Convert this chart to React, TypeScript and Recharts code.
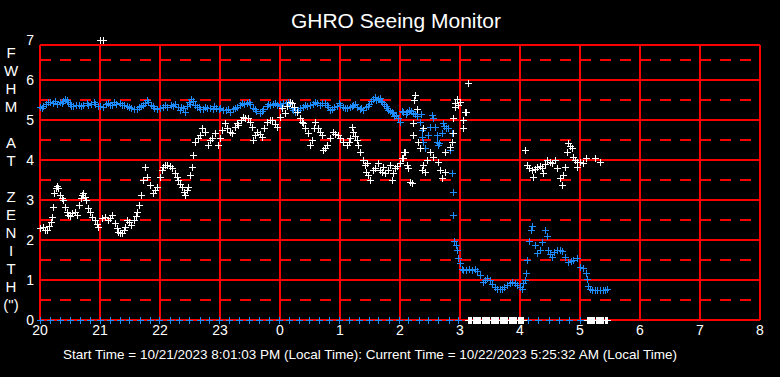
import { ScatterChart, Scatter, XAxis, YAxis, CartesianGrid } from 'recharts'

// hours since local midnight of the start day (24 = 0:00 next day)
const HOUR_TICKS = [20, 21, 22, 23, 24, 25, 26, 27, 28, 29, 30, 31, 32]
const FWHM_TICKS = [0, 1, 2, 3, 4, 5, 6, 7]
const FRAME_TOP = 6.875
const SOLID_Y = [0, 1, 2, 3, 4, 5, 6, FRAME_TOP]
const DASHED_Y = [0.5, 1.5, 2.5, 3.5, 4.5, 5.5, 6.5]
const Y_TITLE = ['F', 'W', 'H', 'M', '', 'A', 'T', '', 'Z', 'E', 'N', 'I', 'T', 'H', '(")']

const BLUE = '#1e8cff'
const RED = '#ff0000'
const FONT = '"Liberation Sans", Arial, sans-serif'

// blue series: [hour, fwhm]
const blueBand: [number, number][] = [
  [20.0, 5.33], [20.05, 5.36], [20.1, 5.4], [20.17, 5.46], [20.22, 5.43], [20.28, 5.4], [20.33, 5.44],
  [20.38, 5.48], [20.42, 5.52], [20.47, 5.45], [20.5, 5.4], [20.55, 5.35], [20.6, 5.37], [20.65, 5.38],
  [20.72, 5.38], [20.78, 5.42], [20.85, 5.4], [20.92, 5.4], [20.97, 5.36], [21.05, 5.32], [21.1, 5.4],
  [21.13, 5.43], [21.2, 5.38], [21.27, 5.4], [21.33, 5.43], [21.4, 5.38], [21.45, 5.35], [21.52, 5.3],
  [21.57, 5.28], [21.62, 5.27], [21.68, 5.35], [21.75, 5.42], [21.8, 5.46], [21.85, 5.38], [21.9, 5.3],
  [21.95, 5.27], [22.0, 5.3], [22.05, 5.32], [22.12, 5.33], [22.18, 5.37], [22.25, 5.4], [22.3, 5.33],
  [22.33, 5.25], [22.38, 5.3], [22.42, 5.2], [22.45, 5.35], [22.5, 5.4], [22.55, 5.48], [22.58, 5.38],
  [22.62, 5.33], [22.67, 5.28], [22.72, 5.27], [22.78, 5.3], [22.83, 5.31], [22.88, 5.27], [22.93, 5.3],
  [22.98, 5.28], [23.05, 5.25], [23.1, 5.24], [23.17, 5.21], [23.22, 5.28], [23.28, 5.33], [23.33, 5.37],
  [23.4, 5.4], [23.45, 5.42], [23.5, 5.4], [23.55, 5.3], [23.6, 5.22], [23.67, 5.17], [23.72, 5.28],
  [23.78, 5.35], [23.83, 5.38], [23.88, 5.4], [23.95, 5.38], [24.0, 5.4], [24.05, 5.42], [24.1, 5.43],
  [24.15, 5.4], [24.2, 5.3], [24.25, 5.21], [24.3, 5.25], [24.38, 5.33], [24.45, 5.35], [24.5, 5.38],
  [24.55, 5.4], [24.62, 5.42], [24.7, 5.42], [24.75, 5.43], [24.8, 5.33], [24.83, 5.25], [24.9, 5.32],
  [24.95, 5.36], [25.0, 5.38], [25.05, 5.33], [25.12, 5.29], [25.17, 5.33], [25.22, 5.38], [25.28, 5.33],
  [25.33, 5.27], [25.38, 5.25], [25.43, 5.33], [25.48, 5.4], [25.52, 5.47], [25.58, 5.57], [25.63, 5.53],
  [25.68, 5.48], [25.73, 5.4], [25.78, 5.3], [25.83, 5.22], [25.88, 5.17], [25.93, 5.13], [25.97, 5.05],
  [26.0, 4.96], [26.05, 5.2], [26.1, 5.15], [26.15, 5.25], [26.22, 5.17], [26.28, 5.1], [26.33, 4.96],
  [26.35, 5.15], [26.37, 4.75], [26.37, 4.58], [26.38, 4.45], [26.42, 4.3], [26.47, 4.62], [26.5, 4.83],
  [26.53, 5.12], [26.55, 5.05], [26.58, 4.83], [26.62, 4.62], [26.62, 4.45], [26.63, 4.38], [26.65, 4.42],
  [26.7, 4.67], [26.72, 4.92], [26.74, 4.85], [26.76, 4.8], [26.8, 4.8], [26.83, 4.25], [26.87, 4.67],
  [26.87, 3.67], [26.88, 3.2], [26.88, 2.62], [26.9, 1.98], [26.93, 1.88], [26.95, 1.75], [26.97, 1.55],
  [27.0, 1.42], [27.03, 1.28], [27.05, 1.25], [27.1, 1.25], [27.15, 1.27], [27.2, 1.25], [27.25, 1.27],
  [27.28, 1.22], [27.33, 1.12], [27.38, 0.95], [27.42, 1.0], [27.45, 1.05], [27.5, 1.0], [27.53, 0.9],
  [27.58, 0.83], [27.62, 0.78], [27.67, 0.78], [27.7, 0.78], [27.74, 0.82], [27.78, 0.88], [27.83, 0.92],
  [27.87, 0.95], [27.92, 0.92], [27.95, 0.88], [28.0, 0.82], [28.03, 0.78], [28.05, 0.92], [28.08, 1.0],
  [28.1, 1.18], [28.12, 1.5], [28.15, 1.98], [28.18, 2.25], [28.2, 2.35], [28.25, 1.88], [28.28, 1.68],
  [28.33, 1.75], [28.37, 1.95], [28.42, 2.25], [28.45, 2.1], [28.47, 1.75], [28.5, 1.65], [28.53, 1.58],
  [28.57, 1.7], [28.62, 1.75], [28.67, 1.75], [28.7, 1.73], [28.75, 1.58], [28.8, 1.45], [28.85, 1.48],
  [28.88, 1.5], [28.95, 1.55], [29.0, 1.33], [29.05, 1.3], [29.1, 1.17], [29.12, 1.02], [29.13, 0.85],
  [29.17, 0.78], [29.2, 0.75], [29.25, 0.74], [29.28, 0.75], [29.33, 0.75], [29.38, 0.75], [29.42, 0.76],
  [29.45, 0.78],
]

// extra readings inside the thick blue band
const blueBandFill: [number, number][] = [
  [20.03, 5.3], [20.13, 5.44], [20.25, 5.47], [20.36, 5.42], [20.45, 5.5], [20.52, 5.35], [20.68, 5.34],
  [20.8, 5.37], [20.9, 5.44], [21.0, 5.35], [21.16, 5.37], [21.24, 5.45], [21.36, 5.38], [21.48, 5.32],
  [21.65, 5.32], [21.72, 5.38], [21.78, 5.5], [21.88, 5.34], [22.08, 5.37], [22.22, 5.35], [22.35, 5.32],
  [22.48, 5.45], [22.52, 5.52], [22.65, 5.33], [22.75, 5.32], [22.9, 5.34], [23.0, 5.3], [23.14, 5.28],
  [23.25, 5.3], [23.37, 5.42], [23.48, 5.45], [23.58, 5.27], [23.7, 5.22], [23.8, 5.4], [23.92, 5.43],
  [24.02, 5.36], [24.13, 5.46], [24.22, 5.25], [24.33, 5.3], [24.42, 5.38], [24.58, 5.45], [24.66, 5.38],
  [24.78, 5.38], [24.87, 5.28], [24.98, 5.42], [25.08, 5.3], [25.2, 5.35], [25.25, 5.4], [25.35, 5.3],
  [25.46, 5.36], [25.55, 5.52], [25.6, 5.5], [25.66, 5.55], [25.7, 5.44], [25.76, 5.35], [25.8, 5.26],
  [25.86, 5.2], [25.9, 5.1], [26.03, 5.22], [26.12, 5.2], [26.18, 5.22], [26.25, 5.15],
]

const blueZeroTimes = [
  20.0, 20.17, 20.33, 20.5, 20.66, 20.83, 21.0, 21.16, 21.33, 21.49, 21.66, 21.83, 21.99, 22.16, 22.32,
  22.49, 22.66, 22.82, 22.99, 23.15, 23.32, 23.49, 23.65, 23.82, 23.98, 24.15, 24.32, 24.48, 24.65, 24.81,
  24.98, 25.15, 25.31, 25.48, 25.64, 25.81, 25.98, 26.14, 26.31, 26.47, 26.64, 26.81, 26.97,
  28.13, 28.3, 28.48, 28.65, 28.82, 29.0,
]

// white series: [hour, fwhm]
const whitePoints: [number, number][] = [
  [20.0, 2.3], [20.05, 2.33], [20.08, 2.25], [20.12, 2.25], [20.15, 2.35], [20.18, 2.45], [20.2, 2.58],
  [20.22, 2.83], [20.23, 3.17], [20.27, 3.3], [20.28, 3.35], [20.3, 3.3], [20.33, 3.12], [20.36, 3.05],
  [20.38, 3.0], [20.42, 2.83], [20.45, 2.7], [20.47, 2.62], [20.5, 2.6], [20.53, 2.67], [20.58, 2.7],
  [20.62, 2.62], [20.65, 2.88], [20.68, 3.05], [20.7, 3.12], [20.72, 3.17], [20.75, 3.08], [20.77, 3.0],
  [20.8, 2.8], [20.83, 2.7], [20.87, 2.58], [20.92, 2.5], [20.95, 2.4], [20.97, 2.33],
  [21.0, 7.0], [21.05, 7.0],
  [21.03, 2.55], [21.08, 2.58], [21.13, 2.5], [21.17, 2.55], [21.2, 2.62], [21.25, 2.42], [21.28, 2.3],
  [21.3, 2.2], [21.33, 2.17], [21.37, 2.17], [21.4, 2.25], [21.42, 2.33], [21.45, 2.5], [21.48, 2.45],
  [21.52, 2.38], [21.57, 2.5], [21.6, 2.6], [21.62, 2.7], [21.65, 2.88], [21.68, 3.12], [21.72, 3.5],
  [21.75, 3.82], [21.78, 3.58], [21.83, 3.38], [21.88, 3.17], [21.92, 3.25], [21.95, 3.33], [22.0, 3.58],
  [22.03, 3.75], [22.05, 3.83], [22.08, 3.88], [22.12, 3.88], [22.16, 3.85], [22.2, 3.8], [22.25, 3.67],
  [22.28, 3.58], [22.3, 3.5], [22.33, 3.4], [22.37, 3.33], [22.4, 3.2], [22.42, 3.12], [22.45, 3.25],
  [22.47, 3.33], [22.5, 3.62], [22.53, 3.83], [22.55, 4.12], [22.58, 4.45], [22.63, 4.55], [22.67, 4.62],
  [22.7, 4.8], [22.75, 4.7], [22.8, 4.38], [22.83, 4.5], [22.87, 4.55], [22.92, 4.67], [22.97, 4.38],
  [23.0, 4.55], [23.03, 4.75], [23.08, 4.92], [23.12, 4.8], [23.17, 4.7], [23.2, 4.67], [23.25, 4.83],
  [23.28, 4.92], [23.3, 4.88], [23.35, 5.0], [23.38, 5.08], [23.42, 5.06], [23.47, 5.04], [23.5, 4.95],
  [23.53, 4.83], [23.55, 4.5], [23.58, 4.62], [23.62, 4.7], [23.66, 4.65], [23.7, 4.58], [23.74, 4.8],
  [23.78, 4.96], [23.83, 5.0], [23.87, 5.0], [23.92, 4.9], [23.95, 4.83], [24.0, 5.08], [24.03, 5.3],
  [24.08, 5.17], [24.12, 5.35], [24.17, 5.46], [24.2, 5.42], [24.23, 5.33], [24.28, 5.21], [24.33, 5.04],
  [24.36, 4.96], [24.38, 4.92], [24.42, 4.8], [24.47, 4.67], [24.5, 4.38], [24.53, 4.5], [24.56, 4.8],
  [24.58, 4.96], [24.63, 4.8], [24.67, 4.7], [24.7, 4.62], [24.72, 4.25], [24.75, 4.3], [24.78, 4.38],
  [24.83, 4.55], [24.88, 4.7], [24.92, 4.65], [24.97, 4.62], [25.0, 4.55], [25.05, 4.45], [25.12, 4.38],
  [25.15, 4.45], [25.17, 4.55], [25.2, 4.83], [25.22, 4.7], [25.25, 4.6], [25.28, 4.5], [25.3, 4.38],
  [25.33, 4.2], [25.38, 4.0], [25.42, 3.88], [25.43, 3.7], [25.45, 3.92], [25.47, 3.62], [25.5, 3.5],
  [25.55, 3.75], [25.58, 3.8], [25.63, 3.92], [25.67, 3.75], [25.7, 3.7], [25.72, 3.83], [25.75, 3.67],
  [25.8, 3.75], [25.83, 3.88], [25.87, 3.5], [25.88, 3.67], [25.92, 3.8], [25.95, 3.85], [26.0, 3.92],
  [26.03, 4.05], [26.05, 4.05], [26.07, 4.2], [26.08, 4.2], [26.12, 3.88], [26.13, 3.8], [26.17, 3.45],
  [26.2, 3.42], [26.22, 4.62], [26.22, 4.92], [26.23, 5.5], [26.25, 5.62], [26.28, 5.27], [26.3, 4.45],
  [26.33, 4.3], [26.37, 3.75], [26.38, 3.88], [26.38, 4.8], [26.42, 3.7], [26.45, 4.0], [26.5, 4.2],
  [26.55, 4.08], [26.63, 3.95], [26.67, 3.75], [26.7, 3.55], [26.75, 3.7], [26.75, 4.2], [26.83, 4.33],
  [26.87, 4.45], [26.88, 4.67], [26.88, 5.04], [26.92, 5.33], [26.92, 5.42], [26.95, 5.53], [26.97, 5.38],
  [27.0, 5.46], [27.05, 4.8], [27.05, 5.0], [27.08, 5.21], [27.1, 5.2], [27.13, 5.92],
  [28.08, 4.25], [28.12, 3.88], [28.15, 3.8], [28.2, 3.75], [28.22, 3.58], [28.25, 3.78], [28.28, 3.83],
  [28.33, 3.85], [28.37, 3.8], [28.38, 3.67], [28.42, 3.9], [28.45, 4.0], [28.5, 3.95], [28.53, 3.92],
  [28.58, 4.0], [28.62, 3.8], [28.67, 3.55], [28.7, 3.38], [28.72, 3.62], [28.75, 3.83], [28.78, 4.2],
  [28.8, 4.42], [28.83, 4.35], [28.87, 4.3], [28.88, 4.08], [28.92, 4.0], [28.95, 3.95], [28.95, 3.83],
  [29.0, 3.95], [29.05, 3.92], [29.1, 4.05], [29.25, 4.05], [29.33, 3.95],
]

// white readings of 0 (the solid white bars on the bottom line)
const whiteZeroTimes = [
  27.13, 27.15, 27.16, 27.18, 27.19, 27.21, 27.22, 27.24, 27.25, 27.27, 27.28, 27.3, 27.31, 27.33, 27.34,
  27.36, 27.37, 27.39, 27.4, 27.42, 27.43, 27.45, 27.46, 27.48, 27.49, 27.51, 27.52, 27.54, 27.55, 27.57,
  27.58, 27.6, 27.61, 27.63, 27.64, 27.66, 27.67, 27.69, 27.7, 27.72, 27.73, 27.75, 27.76, 27.78, 27.79,
  27.81, 27.82, 27.84, 27.85, 27.87, 27.88, 27.9, 27.91, 27.93, 27.94, 27.96, 27.97, 27.99, 28.0, 28.02,
  28.03, 28.05,
  29.12, 29.14, 29.15, 29.17, 29.18, 29.2, 29.21, 29.23, 29.24, 29.26, 29.27, 29.29, 29.3, 29.32, 29.33,
  29.35, 29.36, 29.38, 29.39, 29.41, 29.42, 29.44, 29.45,
]

const toRows = (pts: [number, number][]) => pts.map(([t, v]) => ({ t, v }))
const zeroRows = (times: number[]) => times.map((t) => ({ t, v: 0 }))

function plus(color: string) {
  return (props: any) => {
    const x = Math.round(props.cx)
    const y = Math.round(props.cy)
    return (
      <path
        d={`M${x - 3},${y + 0.5}H${x + 4}M${x + 0.5},${y - 3}V${y + 4}`}
        stroke={color}
        strokeWidth={1}
        fill="none"
      />
    )
  }
}

export default function App() {
  return (
    <div style={{ position: 'absolute', left: 0, top: 0, width: 780, height: 377, background: '#000' }}>
      <ScatterChart width={780} height={377} margin={{ top: 40, right: 20, bottom: 27, left: 0 }}>
        <CartesianGrid
          horizontalValues={DASHED_Y}
          vertical={false}
          stroke={RED}
          strokeWidth={2}
          strokeDasharray="11 9"
        />
        {/* frame starts a little below the 7 tick */}
        <CartesianGrid
          y={45}
          height={275}
          horizontalValues={SOLID_Y}
          verticalValues={HOUR_TICKS}
          stroke={RED}
          strokeWidth={2}
        />
        <XAxis
          type="number"
          dataKey="t"
          domain={[20, 32]}
          ticks={HOUR_TICKS}
          interval={0}
          tickFormatter={(h) => String(h % 24)}
          height={30}
          tickSize={0}
          tickMargin={5}
          axisLine={false}
          tick={{ fill: '#fff', fontSize: 14, fontFamily: FONT }}
        />
        <YAxis
          type="number"
          dataKey="v"
          domain={[0, 7]}
          ticks={FWHM_TICKS}
          interval={0}
          width={40}
          tickSize={0}
          tickMargin={6}
          axisLine={false}
          tickLine={false}
          tick={{ fill: '#fff', fontSize: 14, fontFamily: FONT }}
        />
        <Scatter data={toRows(blueBand)} shape={plus(BLUE)} isAnimationActive={false} />
        <Scatter data={toRows(blueBandFill)} shape={plus(BLUE)} isAnimationActive={false} />
        <Scatter data={zeroRows(blueZeroTimes)} shape={plus(BLUE)} isAnimationActive={false} />
        <Scatter data={toRows(whitePoints)} shape={plus('#fff')} isAnimationActive={false} />
        <Scatter data={zeroRows(whiteZeroTimes)} shape={plus('#fff')} isAnimationActive={false} />
      </ScatterChart>
      <svg
        width={780}
        height={377}
        style={{ position: 'absolute', left: 0, top: 0, pointerEvents: 'none' }}
        fontFamily={FONT}
        fill="#fff"
      >
        <text x={396} y={28} fontSize={21} textAnchor="middle">GHRO Seeing Monitor</text>
        {Y_TITLE.map((c, i) => (
          <text key={i} x={11} y={58 + i * 18} fontSize={15} textAnchor="middle">{c}</text>
        ))}
        <text x={370} y={359} fontSize={13.5} textAnchor="middle" xmlSpace="preserve">
          Start Time = 10/21/2023 8:01:03 PM (Local Time): Current Time = 10/22/2023 5:25:32 AM (Local Time)
        </text>
      </svg>
    </div>
  )
}
